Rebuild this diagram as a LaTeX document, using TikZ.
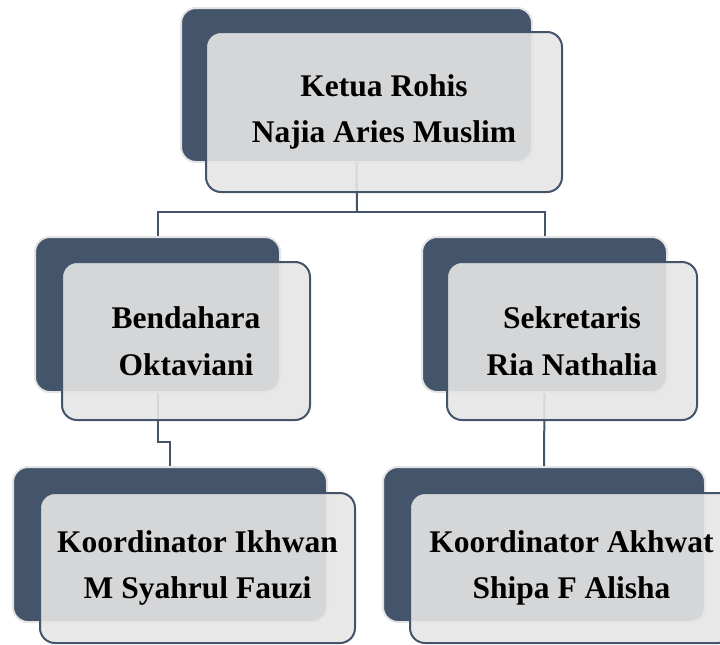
\documentclass[tikz,border=0pt]{standalone}
\usepackage{fontspec}
\setmainfont{Liberation Serif}
\usetikzlibrary{backgrounds}
\definecolor{darkbox}{HTML}{44546A}
\definecolor{lightfill}{HTML}{E5E5E5}
\definecolor{halo}{HTML}{E4E4E4}
\tikzset{
  darkpanel/.style={rectangle, rounded corners=15pt, fill=darkbox, draw=halo, line width=2pt,
    inner sep=0pt, outer sep=0pt, anchor=north west},
  lightpanel/.style={rectangle, rounded corners=15pt, fill=lightfill, fill opacity=0.9, text opacity=1,
    draw=darkbox, line width=2pt, inner sep=0pt, outer sep=0pt, anchor=north west,
    align=center, font=\fontsize{31.5}{46.5}\selectfont\bfseries},
  link/.style={draw=darkbox, line width=2pt}
}
\begin{document}
\begin{tikzpicture}[x=1pt,y=-1pt]
\useasboundingbox (0,0) rectangle (720,645);
\clip (0,0) rectangle (720,645);
% top
\node[darkpanel, minimum width=351pt, minimum height=154pt] (topD) at (181,8) {};
\node[lightpanel, minimum width=356pt, minimum height=160pt] (topL) at (206,32) {Ketua Rohis\\Najia Aries Muslim};
% middle left
\node[darkpanel, minimum width=245pt, minimum height=155pt] (benD) at (35,237) {};
\node[lightpanel, minimum width=248pt, minimum height=158pt] (benL) at (62,262) {Bendahara\\Oktaviani};
% middle right
\node[darkpanel, minimum width=245pt, minimum height=155pt] (sekD) at (422,237) {};
\node[lightpanel, minimum width=250pt, minimum height=158pt] (sekL) at (447,262) {Sekretaris\\Ria Nathalia};
% bottom left
\node[darkpanel, minimum width=314pt, minimum height=155pt] (ikhD) at (13,467) {};
\node[lightpanel, minimum width=315pt, minimum height=150pt] (ikhL) at (40,493) {Koordinator Ikhwan\\M Syahrul Fauzi};
% bottom right
\node[darkpanel, minimum width=322pt, minimum height=155pt] (akhD) at (383,467) {};
\node[lightpanel, minimum width=323pt, minimum height=150pt] (akhL) at (410,493) {Koordinator Akhwat\\Shipa F Alisha};
% connectors
\coordinate (j1) at (357,212);
\begin{pgfonlayer}{background}
\draw[link] (topD.south) -- (j1);
\draw[link] (benD.north) |- (j1);
\draw[link] (sekD.north) |- (j1);
\draw[link] (benD.south) -- ++(0,50) -| (ikhD.north);
\draw[link] (sekD.south) -- (akhD.north);
\end{pgfonlayer}
\end{tikzpicture}
\end{document}
